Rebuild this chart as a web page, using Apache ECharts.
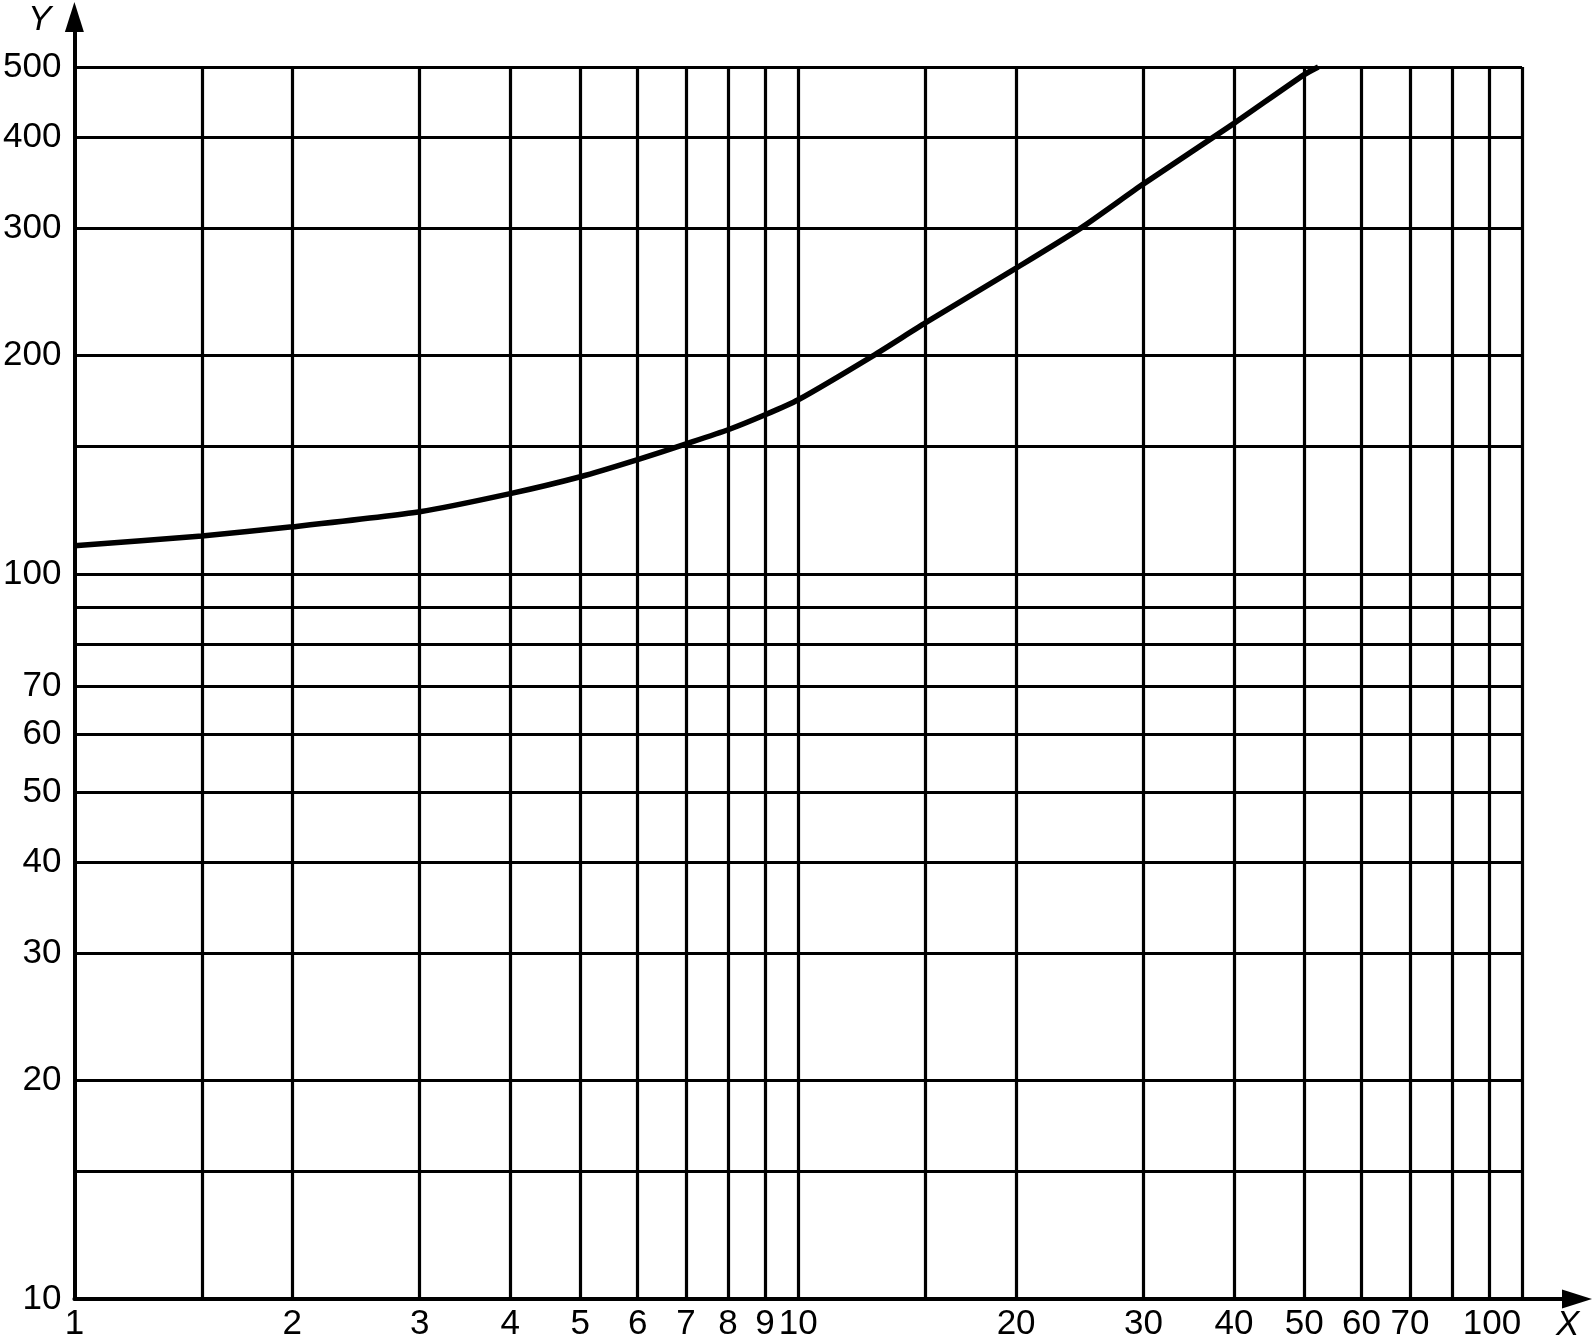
<!DOCTYPE html>
<html>
<head>
<meta charset="utf-8">
<title>log-log chart</title>
<script src="https://cdn.jsdelivr.net/npm/echarts@6/dist/echarts.min.js"></script>
<style>
  html, body { margin: 0; padding: 0; background: #fff; }
  #chart { width: 1594px; height: 1344px; }
</style>
</head>
<body>
<div id="chart"></div>
<script>
// curve
const curveX = [1, 1.5, 2, 3, 4, 5, 6, 7, 8, 9, 10, 12.7, 15, 20, 24.6, 30, 40, 50, 52.3]
const curveY = [109.3, 112.8, 116.1, 121.8, 129, 136.1, 143.7, 151.1, 158, 165.7, 173.8, 200, 222, 264, 300, 345, 418, 488, 500]

// grid lines
const xGridValues = [1.5, 2, 3, 4, 5, 6, 7, 8, 9, 10, 15, 20, 30, 40, 50, 60, 70, 80, 90, 100]
const yGridValues = [15, 20, 30, 40, 50, 60, 70, 80, 90, 100, 150, 200, 300, 400, 500]

// tick labels
const xTickLabels = [1, 2, 3, 4, 5, 6, 7, 8, 9, 10, 20, 30, 40, 50, 60, 70, 100]
const yTickLabels = [10, 20, 30, 40, 50, 60, 70, 100, 200, 300, 400, 500]

const xMin = 1, xMax = 100
const yMin = 10, yMax = 500
// axes run a bit past the grid so the arrows sit outside
const xAxisEnd = 119.1
const yAxisEnd = 586

const font = 'Liberation Sans, Arial, sans-serif'

const gridLines = []
xGridValues.forEach(v => gridLines.push([{ coord: [v, yMin] }, { coord: [v, yMax] }]))
yGridValues.forEach(v => gridLines.push([{ coord: [xMin, v] }, { coord: [xMax, v] }]))

const chart = echarts.init(document.getElementById('chart'))

chart.setOption({
  animation: false,
  grid: { left: 72, right: 17, top: 17, bottom: 45 },
  xAxis: {
    type: 'log',
    min: xMin,
    max: xAxisEnd,
    axisLine: {
      onZero: false,
      symbol: ['none', 'triangle'],
      symbolSize: [19, 30],
      lineStyle: { color: '#000', width: 4 }
    },
    axisTick: { show: false },
    splitLine: { show: false },
    axisLabel: {
      customValues: xTickLabels,
      margin: 8,
      color: '#000',
      fontSize: 35,
      fontFamily: font,
      formatter: (val) => {
        const v = Math.round(val)
        // 100 sits a little left so it clears the arrow
        return v === 100 ? '{s|100}' : String(v)
      },
      rich: {
        s: { fontSize: 35, fontFamily: font, color: '#000', padding: [0, 60, 0, 0] }
      }
    }
  },
  yAxis: {
    type: 'log',
    min: yMin,
    max: yAxisEnd,
    axisLine: {
      onZero: false,
      symbol: ['none', 'triangle'],
      symbolSize: [19, 30],
      lineStyle: { color: '#000', width: 4 }
    },
    axisTick: { show: false },
    splitLine: { show: false },
    axisLabel: {
      customValues: yTickLabels,
      margin: 13,
      color: '#000',
      fontSize: 35,
      fontFamily: font,
      formatter: (val) => String(Math.round(val))
    }
  },
  graphic: [
    { type: 'text', left: 28, top: 3, style: { text: 'Y', fontSize: 35, fontFamily: font, fontStyle: 'italic', fill: '#000' } },
    { type: 'text', left: 1556, top: 1308, style: { text: 'X', fontSize: 35, fontFamily: font, fontStyle: 'italic', fill: '#000' } }
  ],
  series: [
    {
      // grid
      type: 'line',
      data: [],
      silent: true,
      markLine: {
        silent: true,
        symbol: 'none',
        label: { show: false },
        lineStyle: { color: '#000', width: 3.2, type: 'solid' },
        data: gridLines
      }
    },
    {
      type: 'line',
      z: 5,
      data: curveX.map((x, i) => [x, curveY[i]]),
      smooth: 0.2,
      showSymbol: false,
      lineStyle: { color: '#000', width: 5.5 }
    }
  ]
})
</script>
</body>
</html>
